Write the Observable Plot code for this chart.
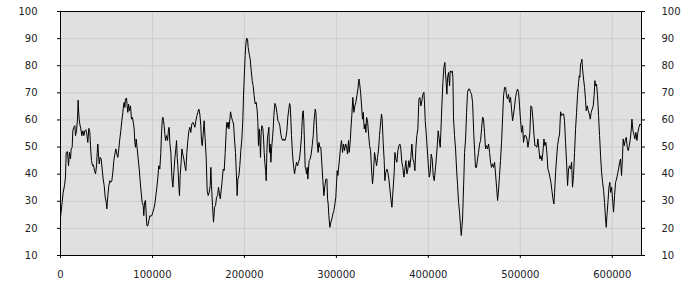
<!DOCTYPE html>
<html>
<head>
<meta charset="utf-8">
<script src="https://cdn.jsdelivr.net/npm/d3@7"></script>
<script src="https://cdn.jsdelivr.net/npm/@observablehq/plot@0.6"></script>
<style>
  html, body { margin: 0; padding: 0; background: #ffffff; }
  #chart { width: 700px; height: 300px; }
</style>
</head>
<body>
<div id="chart"></div>
<script>
// Tick values
const xTicks = [0, 100000, 200000, 300000, 400000, 500000, 600000];
const yTicks = [10, 20, 30, 40, 50, 60, 70, 80, 90, 100];

// Series positions (x)
const xs = [
  0, 1800, 2900, 4400, 5400, 6200, 7600, 8700, 9800, 10900, 11600, 12700, 13400, 14500, 15600, 16300, 17400, 18500, 19200, 19600,
  20300, 21000, 22100, 23200, 24300, 25400, 26500, 27600, 28600, 29700, 30800, 31900, 32600, 33700, 34800, 35900, 37000, 38100, 39200, 39900,
  40600, 41300, 42100, 43100, 44200, 45300, 46400, 47500, 48600, 49700, 50400, 51500, 52600, 53700, 54700, 55800, 56900, 58000, 59100, 60200,
  61300, 62400, 63400, 64500, 65600, 66700, 67800, 68500, 69200, 70000, 70700, 71800, 72500, 73200, 74000, 75000, 76100, 77200, 78300, 79400,
  80100, 80800, 81600, 82300, 83400, 84500, 85600, 86600, 87700, 88800, 89900, 90600, 91400, 92400, 93200, 93900, 95000, 96100, 97200, 98200,
  99300, 100400, 101500, 102600, 103700, 104800, 105900, 106900, 108000, 109100, 109800, 110600, 111300, 112000, 112700, 113500, 114200, 115300, 116400, 117500,
  118200, 118900, 120000, 121100, 122200, 123300, 124300, 125400, 126200, 126900, 127600, 128700, 129400, 130100, 131200, 132000, 133000, 134100, 135200, 136300,
  137400, 138500, 139600, 140700, 141700, 142800, 143900, 145000, 146100, 147200, 148300, 149400, 150400, 151500, 152600, 153300, 154100, 155200, 156200, 157300,
  158400, 159500, 160600, 161700, 162800, 163500, 164200, 165300, 166400, 167500, 168600,
  169700, 170800, 171800, 172900, 173700, 174700, 175800, 176900, 178000, 179100, 180200, 180900, 181600, 182400, 183100, 184200, 184900, 186000, 187100, 188200,
  189200, 190300, 191100, 191800, 192100, 192900, 194000, 195000, 196100, 197200, 198300, 199000, 199800, 200800, 201600, 202300, 203400, 204100, 205200, 206300,
  207400, 208500, 209500, 210600, 211700, 212800, 213900, 214600, 215300, 216100, 216800, 217500, 218200, 219000, 220100, 220800, 221500, 222200, 223000, 223700,
  224400, 225100, 225900, 226600, 227300, 228000, 228800, 229500, 230600, 231300, 232000, 233100, 234200, 235300, 236400, 237500, 238500, 239600, 240700, 241800,
  242900, 244000, 245100, 246200, 247200, 248300, 249100, 249800, 250500, 251200, 252300, 253400, 254500, 255600, 256700, 257800, 258800, 259900, 261000, 262100,
  263200, 263900, 264600, 265400, 266100, 266800, 267500, 268300, 269000, 269700, 270400, 271500, 272600, 273700, 274800, 275900, 277000, 277700, 278400, 279100,
  280200, 281000, 282000, 283100, 284200, 285300, 286400, 287500, 288600, 289700, 290400, 291100, 291800, 292900, 294000, 295100, 296200, 297300, 298400, 299400,
  300200, 300900, 301600, 302300, 303400, 304500, 305600, 306700, 307800, 308900, 310000, 311000, 312100, 313200, 313900, 315000, 315800, 316800, 317900, 319000,
  320100, 321200, 322300, 323400, 324500, 325200, 326300, 327400, 328400, 329200, 330300, 331300, 332100,
  332800, 333900, 335000, 336100, 337200, 338200, 339300, 340400, 341500, 342600, 343700, 344800, 345900, 346900, 348000, 349100, 349800, 350900, 352000, 352700,
  353800, 354900, 356000, 357100, 358200, 359300, 360400, 361100, 361800, 362900, 363600, 364700, 365800, 366900, 368000, 369100, 370100, 371200, 372300, 373400,
  374500, 375600, 376700, 377800, 378800, 379900, 381000, 382100, 383200, 384300, 385400, 386500, 387500, 388600, 389700, 390800, 391900, 393000, 394100, 395200,
  395900, 396600, 397700, 398800, 399900, 401000, 402000, 403100, 404200, 405300, 406400, 407500, 408600, 409700, 410700, 411800, 412900, 413600, 414700, 415800,
  416900, 418000, 418700, 419400, 420200, 420900, 422000, 423100, 423800, 424900, 426000, 426700, 427400, 428500, 429600, 430700, 431800, 432900, 433900, 435000,
  435800, 436500, 437200, 437900, 438700, 439400, 440500, 441600, 442600, 443700, 444800, 445900, 447000, 448100, 448800, 449500, 450300, 451300, 452400, 453500,
  454600, 455700, 456800, 457900, 459000, 460000, 461100, 462200, 463300, 464400, 465500, 466600, 467700, 468700, 469800, 470900, 472000, 473100, 474200, 475300,
  476400, 477400, 478500, 479600, 480700, 481800, 482900, 484000, 485100, 486100, 487200, 488300, 489400, 490500, 491600, 492700, 493800, 494800, 495900, 497000,
  498100, 499200, 500300, 501400, 502500, 503500, 504600,
  506100, 507200, 508300, 509400, 510400, 511500, 512600, 513700, 514800, 515900, 517000, 518100, 519100, 520200, 521300, 522400, 523500, 524600, 525700, 526800,
  527800, 528900, 530000, 531100, 532200, 533300, 534400, 535500, 536500, 537300, 538400, 539400, 540500, 541600, 542700, 543800, 544900, 546000, 547100, 548100,
  549200, 550300, 551400, 552500, 553600, 554700, 555800, 556800, 557900, 559000, 560100, 561200, 562300, 563400, 564100, 564800, 565500, 566300, 567000, 567700,
  568800, 569900, 571000, 571700, 572800, 573900, 575000, 576100, 577100, 578200, 579300, 580400, 581100, 581900, 582900, 584000, 585100, 586200, 587300, 588400,
  589500, 590600, 591600, 592700, 593500, 594200, 595300, 596400, 597400, 598200, 599300, 600300, 601400, 602500, 603600, 604700, 605800, 606900, 608000, 609000,
  610100, 611200, 611900, 613000, 614100, 615200, 616300, 617400, 618500, 619600, 620600, 621400, 622500, 623500, 624600, 625700, 626800, 627900, 629000, 630100,
  631200
];

// Series values (y)
const ys = [
  24.1, 29.6, 33.3, 35.8, 38.9, 48, 48.3, 43.1, 48, 45.6, 49.3, 49.9, 56, 57.3, 57.9, 54.2, 56, 60.3, 67.3, 64,
  60.3, 58.5, 56.7, 54.2, 56, 54.2, 56, 56.4, 54.8, 51.7, 56.9, 55.4, 50.5, 45, 43.1, 43.4, 41.3, 40.1, 43.1, 48,
  51.1, 47.4, 43.8, 46.2, 45.6, 41.9, 38.2, 35.8, 31.5, 29.6, 27.2, 32.1, 35.8, 37.6, 37, 37.6, 40.7, 45, 47.4, 49.3,
  47.4, 46.2, 49.3, 53, 56, 59.7, 62.8, 65.2, 66.5, 64.6, 67.7, 68.1, 65.2, 62.8, 65.8, 63.4, 65.2, 60.3, 60.9, 58.5,
  56.7, 51.7, 49.9, 53, 49.3, 45.6, 41.9, 37.6, 33.3, 29.6, 28.4, 24.7, 29.6, 30.3, 25.3, 21, 21, 22.9, 24.7, 24.5,
  24.7, 26, 27.2, 29, 32.1, 35.2, 38.9, 43.1, 41.9, 48, 54.8, 59.7, 61, 59.7, 57.9, 54.8, 52.4, 54.2, 52.4, 56.7,
  57.3, 51.7, 48, 38.9, 35.2, 40.7, 45.6, 49.3, 52.4, 46.2, 43.1, 35.8, 32.1, 39.5, 44.4, 49.3, 47.4, 45.6, 43.1, 41.3,
  48, 52.4, 56, 57.3, 55.4, 58.5, 59.1, 58.5, 57.3, 59.7, 61.6, 62.8, 64, 62.2, 57.9, 52.4, 50.5, 54.8, 59.7, 53,
  46.2, 34, 32.1, 33.3, 35.8, 42.5, 35.8, 28.4, 22.3, 27.8, 28.4,
  31.5, 32.1, 35.2, 32.7, 30.9, 33.9, 37.6, 41.9, 41.3, 48, 56, 59.1, 57.3, 59.1, 56.7, 60.3, 63, 61, 59.7, 58.5,
  53, 48, 41.3, 35.2, 32.1, 38.2, 39.5, 43.1, 48.7, 53, 60.3, 68.9, 75.7, 83.7, 88, 90.2, 89.8, 86.7, 84.3, 82.4,
  78.1, 74.5, 72.6, 68.9, 65.9, 66.5, 63.4, 59.1, 50.5, 56.7, 53, 46.2, 55.4, 57.9, 56.7, 53, 48, 44.4, 41.3, 37.6,
  48, 53.6, 55.4, 57.3, 48, 51.1, 44.4, 49.3, 53.6, 56.7, 61.6, 66.1, 65.2, 62.8, 59.7, 59.1, 57.9, 54.8, 53, 52.4,
  53, 52.4, 53.6, 56, 61, 64, 66.1, 65.2, 60.3, 54.2, 47.4, 43.1, 40.1, 42.5, 44.4, 43.1, 44.4, 45.6, 49.3, 54.2,
  62.2, 63.4, 59.7, 50.5, 42.5, 41.9, 40.1, 42.5, 38.2, 41.9, 45, 45.6, 47.4, 50.5, 54.2, 60.3, 64, 62.8, 57.9, 51.7,
  48, 51.7, 49.9, 49.9, 43.8, 37.6, 32.1, 35.8, 38.2, 38.2, 30.9, 29, 24.7, 20.4, 22.3, 23.5, 25.3, 26.6, 29, 31.5,
  37, 41.3, 39.5, 41.9, 45.6, 49.9, 52.4, 48, 51.1, 48.7, 51.1, 50.5, 47.4, 52.4, 48, 51.7, 56.7, 61.6, 68.3, 62.8,
  65.2, 66.5, 68.9, 71.4, 75.1, 73.8, 70.2, 65.2, 60.3, 62.8, 56.7, 58.5, 55.4,
  61, 59.7, 54.8, 50.5, 48.7, 41.9, 36.4, 40.7, 48, 45.6, 43.1, 46.2, 49.3, 54.2, 58.5, 62.2, 60.3, 51.7, 45, 37.6,
  40.7, 41.9, 40.7, 38.2, 34.5, 30.9, 27.8, 31.5, 35.2, 40.7, 48, 45.6, 44.4, 48.7, 50.5, 51.1, 49.3, 44.4, 42.5, 38.9,
  41.9, 45, 40.1, 41.9, 45, 42.5, 46.2, 51.1, 45.6, 44.4, 41.3, 49.9, 54.2, 56.7, 67.7, 68.3, 65.2, 67.1, 69.5, 70.2,
  65.9, 59.7, 54.8, 49.3, 43.8, 38.9, 40.7, 47.4, 45.6, 39.5, 37.6, 41.3, 45.6, 50.5, 56, 53, 49.9, 55.4, 65.2, 73.8,
  79.4, 81.2, 76.9, 73.8, 69.5, 75.7, 77.5, 72.6, 78.1, 77.5, 78.1, 75.7, 60.3, 54.2, 49.3, 41.9, 35.8, 29.6, 26, 21,
  17.4, 20.4, 23.5, 30.9, 39.5, 48, 53, 62.8, 70.2, 71.4, 71.4, 70.2, 69.5, 66.5, 60.3, 54.2, 48.7, 42.5, 42.5, 45.6,
  48, 51.1, 52.4, 56.7, 61, 60.3, 55.4, 49.3, 50.5, 49.3, 51.1, 48, 44.4, 42.5, 43.8, 42.5, 44.4, 40.1, 35.2, 30.3,
  34.5, 39.5, 45, 51.7, 60.3, 68.9, 72, 72, 68.9, 67.7, 69.5, 66.5, 68.3, 64, 59.7, 62.2, 65.2, 68.3, 70.2, 71.4,
  70.2, 65.2, 59.7, 55.4, 57.9, 51.7, 54.2,
  54.2, 53, 49.9, 52.4, 55.4, 65.2, 64.6, 60.3, 54.8, 50.5, 50.5, 49.9, 53, 49.3, 45.6, 46.8, 45, 48, 53, 50.5,
  51.7, 48, 41.9, 40.7, 38.9, 37, 33.9, 30.9, 29, 33.3, 40.7, 45.6, 50.5, 53, 54.8, 63, 61.6, 62.2, 62.2, 59.7,
  51.7, 44.4, 35.8, 41.9, 43.1, 41.9, 44.4, 35.2, 39.5, 48, 56.7, 62.8, 69.5, 73.8, 76.3, 75.7, 80.6, 81.2, 82.4, 78.8,
  75.1, 72, 67.1, 63.4, 65.2, 63.4, 62.2, 60.3, 62.8, 64, 65.2, 69.5, 74.5, 72.6, 73.2, 68.9, 61.6, 54.2, 46.8, 40.7,
  37, 33.9, 29.6, 23.5, 20.4, 24.7, 29.6, 35.2, 37, 33.3, 35.2, 30.9, 26, 32.1, 37, 38.2, 40.1, 41.9, 44.4, 45.6,
  39.5, 46.8, 53, 50.5, 52.4, 53.6, 49.9, 48.7, 50.5, 53, 56, 60.3, 56, 54.8, 53, 55.4, 52.4, 55.4, 57.3, 58.5,
  58.1
];

const data = xs.map((x, i) => ({x, y: ys[i]}));

const chart = Plot.plot({
  width: 700,
  height: 300,
  marginLeft: 60,
  marginRight: 59,
  marginTop: 11,
  marginBottom: 45,
  style: {fontFamily: "'DejaVu Sans', Verdana, sans-serif", fontSize: "10px", background: "#ffffff", color: "#222"},
  x: {domain: [0, 631800], label: null},
  y: {domain: [10, 100], label: null},
  marks: [
    Plot.frame({fill: "#e0e0e0", stroke: null}),
    Plot.gridX(xTicks, {stroke: "#cccccc", strokeOpacity: 1}),
    Plot.gridY(yTicks, {stroke: "#cccccc", strokeOpacity: 1}),
    Plot.line(data, {x: "x", y: "y", stroke: "#000", strokeWidth: 1}),
    Plot.axisX(xTicks, {anchor: "bottom", tickSize: 3, tickPadding: 12, tickFormat: d => String(d), label: null, stroke: "#000"}),
    Plot.axisY(yTicks, {anchor: "left", tickSize: 3, tickPadding: 20, label: null, stroke: "#000"}),
    Plot.axisY(yTicks, {anchor: "right", tickSize: 3, tickPadding: 17, label: null, stroke: "#000"}),
    Plot.frame({stroke: "#000", strokeWidth: 1})
  ]
});
document.getElementById("chart").appendChild(chart);
</script>
</body>
</html>
